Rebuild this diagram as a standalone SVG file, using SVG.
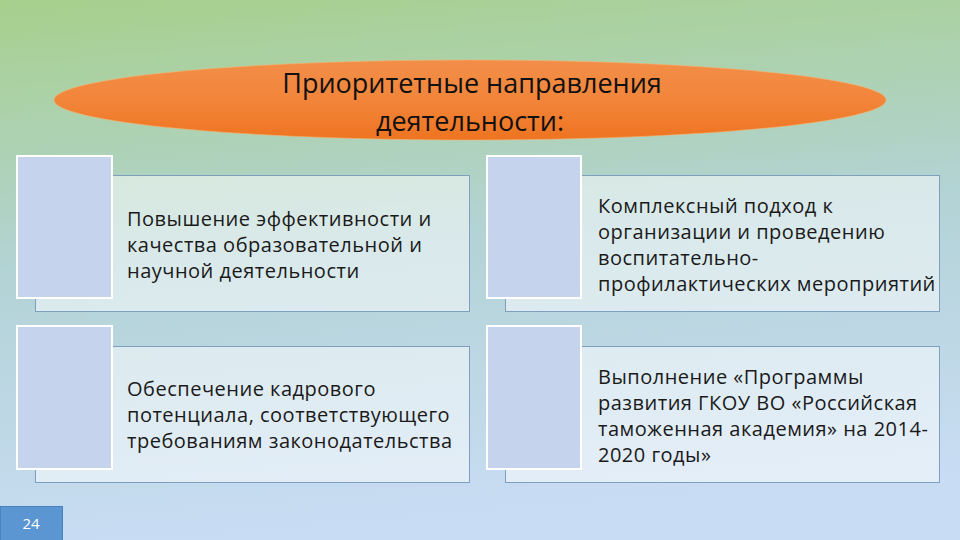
<svg xmlns="http://www.w3.org/2000/svg" width="960" height="540" viewBox="0 0 960 540">
<defs>
<linearGradient id="bg" x1="0" y1="0" x2="0.15" y2="1">
<stop offset="0" stop-color="#a7d08c"/>
<stop offset="0.5" stop-color="#b3d3d6"/>
<stop offset="1" stop-color="#c8dcf3"/>
</linearGradient>
<linearGradient id="ov" x1="0" y1="0" x2="0" y2="1">
<stop offset="0" stop-color="#f28e48"/>
<stop offset="0.5" stop-color="#f2853a"/>
<stop offset="1" stop-color="#ee7420"/>
</linearGradient>
<style>
.back{fill:#ffffff;fill-opacity:0.5;stroke:#7f9fbf;stroke-width:1}
.front{fill:#c5d3ec;stroke:#ffffff;stroke-width:2}
.t{font-family:"Open Sans","DejaVu Sans",sans-serif;font-size:20px;letter-spacing:0.5px;fill:#1a1a1a}
.h{font-family:"Open Sans","DejaVu Sans",sans-serif;font-size:27px;fill:#111;text-anchor:middle}
</style>
</defs>
<rect width="960" height="540" fill="url(#bg)"/>
<g id="title">
<ellipse cx="470" cy="100" rx="416" ry="40" fill="url(#ov)" stroke="#f6b070" stroke-width="1" stroke-opacity="0.6"/>
<text class="h" x="472" y="93">Приоритетные направления</text>
<text class="h" x="470" y="131">деятельности:</text>
</g>
<g id="connectors"></g>
<g id="node1">
<rect class="back" x="35.5" y="175.5" width="434" height="136"/>
<rect class="front" x="17" y="156" width="95" height="142"/>
<text class="t" x="127" y="226">Повышение эффективности и</text>
<text class="t" x="127" y="252">качества образовательной и</text>
<text class="t" x="127" y="278">научной деятельности</text>
</g>
<g id="node2">
<rect class="back" x="505.5" y="175.5" width="434" height="136"/>
<rect class="front" x="487" y="156" width="94" height="142"/>
<text class="t" x="598" y="213">Комплексный подход к</text>
<text class="t" x="598" y="239">организации и проведению</text>
<text class="t" x="598" y="265">воспитательно-</text>
<text class="t" x="598" y="291">профилактических мероприятий</text>
</g>
<g id="node3">
<rect class="back" x="35.5" y="346.5" width="434" height="136"/>
<rect class="front" x="17" y="326" width="95" height="143"/>
<text class="t" x="127" y="396">Обеспечение кадрового</text>
<text class="t" x="127" y="422">потенциала, соответствующего</text>
<text class="t" x="127" y="448">требованиям законодательства</text>
</g>
<g id="node4">
<rect class="back" x="505.5" y="346.5" width="434" height="136"/>
<rect class="front" x="487" y="326" width="94" height="143"/>
<text class="t" x="598" y="384">Выполнение «Программы</text>
<text class="t" x="598" y="410">развития ГКОУ ВО «Российская</text>
<text class="t" x="598" y="436">таможенная академия» на 2014-</text>
<text class="t" x="598" y="462">2020 годы»</text>
</g>
<g id="page">
<rect x="0.5" y="506.5" width="62" height="34" fill="#5b96d2" stroke="#4a82c0"/>
<text x="31" y="529" text-anchor="middle" font-family="'Open Sans','DejaVu Sans',sans-serif" font-size="15" fill="#ffffff">24</text>
</g>
</svg>
